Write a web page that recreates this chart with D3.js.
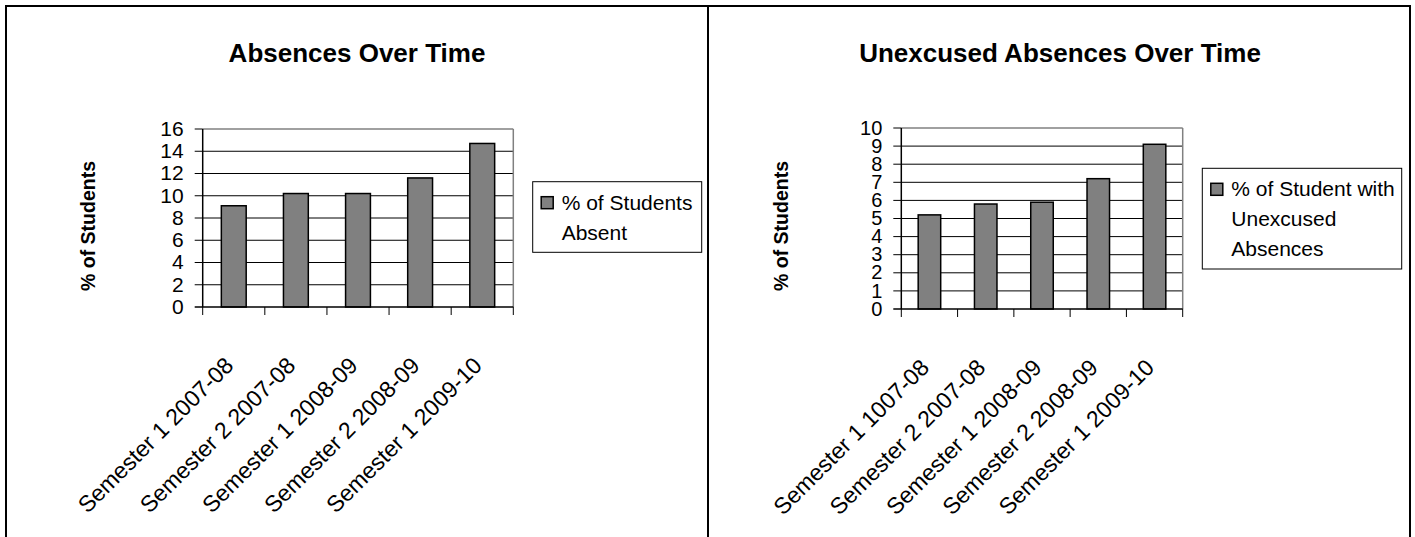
<!DOCTYPE html>
<html><head><meta charset="utf-8">
<script src="https://cdn.jsdelivr.net/npm/d3@7/dist/d3.min.js"></script>
<style>
html,body{margin:0;padding:0;background:#fff;}
svg{display:block;font-family:"Liberation Sans",Arial,sans-serif;}
</style></head>
<body>
<svg id="chart" width="1415" height="537"></svg>
<script>
// ---- data ----
const categoriesAbsent = ["Semester 1 2007-08","Semester 2 2007-08","Semester 1 2008-09","Semester 2 2008-09","Semester 1 2009-10"];
const valuesAbsent = [9.1, 10.2, 10.2, 11.6, 14.7];
const ticksAbsent = [0,2,4,6,8,10,12,14,16];
const legendAbsent = ["% of Students","Absent"];
const titleAbsent = "Absences Over Time";

const categoriesUnexcused = ["Semester 1 1007-08","Semester 2 2007-08","Semester 1 2008-09","Semester 2 2008-09","Semester 1 2009-10"];
const valuesUnexcused = [5.2, 5.8, 5.9, 7.2, 9.1];
const ticksUnexcused = [0,1,2,3,4,5,6,7,8,9,10];
const legendUnexcused = ["% of Student with","Unexcused","Absences"];
const titleUnexcused = "Unexcused Absences Over Time";

const yTitle = "% of Students";

const svg = d3.select("#chart");

// panel borders
svg.append("rect").attr("x",6).attr("y",6).attr("width",702).attr("height",540)
  .attr("fill","none").attr("stroke","#000").attr("stroke-width",2);
svg.append("rect").attr("x",708).attr("y",6).attr("width",702).attr("height",540)
  .attr("fill","none").attr("stroke","#000").attr("stroke-width",2);

function drawChart(cfg){
  const g = svg.append("g");
  const x = d3.scaleBand().domain(cfg.categories).range([cfg.x0,cfg.x1])
    .paddingInner(0.6).paddingOuter(0.3);
  const y = d3.scaleLinear().domain([0,cfg.ticks[cfg.ticks.length-1]]).range([cfg.y1,cfg.y0]);
  const step = x.step();

  // title
  g.append("text").attr("x",cfg.titleX).attr("y",62).attr("text-anchor","middle")
    .attr("font-weight","bold").attr("font-size",26).text(cfg.title);

  // gridlines (black), with outside tick
  g.selectAll(".grid").data(cfg.ticks.slice(1,-1)).enter().append("line")
    .attr("x1",cfg.x0-8).attr("x2",cfg.x1).attr("y1",d=>y(d)).attr("y2",d=>y(d))
    .attr("stroke","#000").attr("stroke-width",1);
  // plot border top/right (gray)
  const topV = cfg.ticks[cfg.ticks.length-1];
  g.append("line").attr("x1",cfg.x0).attr("x2",cfg.x1).attr("y1",y(topV)).attr("y2",y(topV))
    .attr("stroke","#808080").attr("stroke-width",1.5);
  g.append("line").attr("x1",cfg.x0-8).attr("x2",cfg.x0).attr("y1",y(topV)).attr("y2",y(topV))
    .attr("stroke","#000").attr("stroke-width",1);
  g.append("line").attr("x1",cfg.x1).attr("x2",cfg.x1).attr("y1",y(topV)).attr("y2",y(0))
    .attr("stroke","#808080").attr("stroke-width",1.5);

  // y tick labels
  g.selectAll(".yl").data(cfg.ticks).enter().append("text")
    .attr("x",cfg.x0-19).attr("y",d=>y(d)).attr("dy","0.33em")
    .attr("text-anchor","end").attr("font-size",cfg.tickFont).text(d=>d);

  // bars
  g.selectAll(".bar").data(cfg.values).enter().append("rect")
    .attr("x",(d,i)=>x(cfg.categories[i])).attr("width",x.bandwidth())
    .attr("y",d=>y(d)).attr("height",d=>y(0)-y(d))
    .attr("fill","#808080").attr("stroke","#000").attr("stroke-width",1.5);

  // axes
  g.append("line").attr("x1",cfg.x0).attr("x2",cfg.x0).attr("y1",y(topV)).attr("y2",y(0))
    .attr("stroke","#000").attr("stroke-width",1.5);
  g.append("line").attr("x1",cfg.x0-8).attr("x2",cfg.x1).attr("y1",y(0)).attr("y2",y(0))
    .attr("stroke","#000").attr("stroke-width",1.5);
  // category ticks
  const edges = cfg.categories.map(c=>x(c)-(step-x.bandwidth())/2);
  edges.push(cfg.x1);
  g.selectAll(".xt").data(edges).enter().append("line")
    .attr("x1",d=>d).attr("x2",d=>d).attr("y1",y(0)).attr("y2",y(0)+8)
    .attr("stroke","#000").attr("stroke-width",1);

  // x labels
  g.selectAll(".xl").data(cfg.categories).enter().append("text")
    .attr("transform",c=>`translate(${x(c)+x.bandwidth()/2+1},${y(0)+60}) rotate(-45)`)
    .attr("text-anchor","end").attr("font-size",23).text(c=>c);

  // y title
  g.append("text").attr("transform",`translate(${cfg.yTitleX},226) rotate(-90)`)
    .attr("text-anchor","middle").attr("font-weight","bold").attr("font-size",19.5).text(yTitle);

  // legend
  const L = cfg.legend;
  g.append("rect").attr("x",L.x).attr("y",L.y).attr("width",L.w).attr("height",L.h)
    .attr("fill","#fff").attr("stroke","#000").attr("stroke-width",1);
  g.append("rect").attr("x",L.x+8.5).attr("y",L.y+15).attr("width",12).attr("height",12)
    .attr("fill","#808080").attr("stroke","#000").attr("stroke-width",1.5);
  g.selectAll(".lt").data(cfg.legendLines).enter().append("text")
    .attr("x",L.x+29).attr("y",(d,i)=>L.y+28+i*30).attr("font-size",21).text(d=>d);
}

drawChart({
  categories:categoriesAbsent, values:valuesAbsent, ticks:ticksAbsent, title:titleAbsent,
  titleX:357, x0:202.7, x1:513.3, y0:129, y1:307, yTitleX:95, tickFont:21,
  legend:{x:532.7,y:181.7,w:169,h:70.6}, legendLines:legendAbsent
});
drawChart({
  categories:categoriesUnexcused, values:valuesUnexcused, ticks:ticksUnexcused, title:titleUnexcused,
  titleX:1060, x0:901.3, x1:1182.7, y0:128, y1:309, yTitleX:788, tickFont:20,
  legend:{x:1202.3,y:168.3,w:199.4,h:100.7}, legendLines:legendUnexcused
});
</script>
</body></html>
